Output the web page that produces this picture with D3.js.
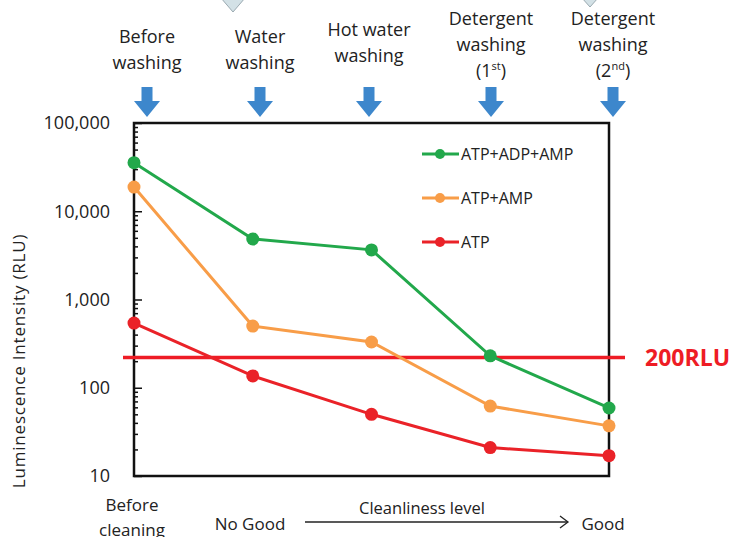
<!DOCTYPE html>
<html>
<head>
<meta charset="utf-8">
<script src="https://cdn.jsdelivr.net/npm/d3@7"></script>
<style>
  body { margin: 0; background: #fff; }
  svg text { font-family: "Open Sans", "Lato", sans-serif; fill: #222; }
</style>
</head>
<body>
<div id="chart"></div>
<script>
var stages = ["Before washing", "Water washing", "Hot water washing", "Detergent washing (1st)", "Detergent washing (2nd)"];
var stageLines = [["Before", "washing"], ["Water", "washing"], ["Hot water", "washing"], ["Detergent", "washing", "(1|st|)"], ["Detergent", "washing", "(2|nd|)"]];
var seriesNames = ["ATP+ADP+AMP", "ATP+AMP", "ATP"];
var seriesColors = ["#22a84b", "#f89d48", "#ea2228"];
var atpAdpAmp = [35500, 4850, 3650, 230, 59];
var atpAmp = [18800, 500, 330, 62, 37];
var atp = [540, 136, 50, 21, 17];
var yTicks = [10, 100, 1000, 10000, 100000];
var threshold = 220;
var thresholdLabel = "200RLU";

(function() {
    var width = 731,
        height = 537;

    var svg = d3.select("#chart")
        .append("svg")
        .attr("width", width)
        .attr("height", height);

    var x = d3.scalePoint().domain(stages).range([134, 609]);
    var y = d3.scaleLog().domain([10, 100000]).range([476, 123]);

    // faint triangles cut off at the top
    svg.append("path")
        .attr("d", "M221,-2 L245,-2 L233,12 Z")
        .attr("fill", "#d3e1e6").attr("stroke", "#9aa9b0").attr("stroke-width", 1);
    svg.append("path")
        .attr("d", "M582,-2 L598,-2 L590,7 Z")
        .attr("fill", "#d3e1e6").attr("stroke", "#9aa9b0").attr("stroke-width", 1);

    // stage labels and arrows
    var labelX = [147, 260, 369, 491, 613];
    var labelTop = [37, 37, 30, 19, 19];
    stageLines.forEach(function(lines, i) {
        var t = svg.append("text")
            .attr("x", labelX[i]).attr("y", labelTop[i])
            .attr("text-anchor", "middle")
            .attr("font-size", 18);
        lines.forEach(function(s, j) {
            var parts = s.split("|");
            t.append("tspan").attr("x", labelX[i]).attr("dy", j == 0 ? "0.35em" : 26).text(parts[0]);
            if (parts.length > 1) {
                t.append("tspan").attr("font-size", 11).attr("dy", -7).text(parts[1]);
                t.append("tspan").attr("dy", 7).text(parts[2]);
            }
        });
        var ax = labelX[i];
        svg.append("path")
            .attr("d", "M" + (ax - 5.5) + ",87 L" + (ax + 5.5) + ",87 L" + (ax + 5.5) + ",101 L" + (ax + 13) + ",101 L" + ax + ",117 L" + (ax - 13) + ",101 L" + (ax - 5.5) + ",101 Z")
            .attr("fill", "#3d87cc");
    });

    // axes
    var minor = [];
    yTicks.slice(0, -1).forEach(function(d) {
        for (var k = 2; k < 10; k++) minor.push(d * k);
    });
    svg.append("g")
        .attr("transform", "translate(134,0)")
        .call(d3.axisLeft(y).tickValues(minor).tickSize(-4).tickFormat(""))
        .call(function(g) { g.select(".domain").remove(); g.selectAll("line").attr("stroke", "#111").attr("stroke-width", 1.5); });
    svg.append("g")
        .attr("transform", "translate(134,0)")
        .call(d3.axisLeft(y).tickValues(yTicks).tickSize(-8).tickPadding(24).tickFormat(d3.format(",")))
        .call(function(g) {
            g.select(".domain").remove();
            g.selectAll("line").attr("stroke", "#111").attr("stroke-width", 1.5);
            g.selectAll("text").attr("font-size", 18).attr("fill", "#333").style("font-family", "'Open Sans', sans-serif");
        });

    svg.append("rect")
        .attr("x", 134).attr("y", 123)
        .attr("width", 609 - 134).attr("height", 476 - 123)
        .attr("fill", "none").attr("stroke", "#111").attr("stroke-width", 2.5);

    svg.append("text")
        .attr("transform", "translate(19," + 361 + ") rotate(-90)")
        .attr("text-anchor", "middle").attr("dy", "0.35em")
        .attr("font-size", 17).attr("letter-spacing", 0.8).attr("fill", "#333")
        .text("Luminescence Intensity (RLU)");

    // threshold
    svg.append("line")
        .attr("x1", 123).attr("x2", 625)
        .attr("y1", y(threshold)).attr("y2", y(threshold))
        .attr("stroke", "#ee1c25").attr("stroke-width", 3.5);
    svg.append("text")
        .attr("x", 645).attr("y", y(threshold)).attr("dy", "0.35em")
        .attr("font-size", 23).attr("font-weight", "bold")
        .style("fill", "#ee1c25")
        .text(thresholdLabel);

    // series
    var series = [atpAdpAmp, atpAmp, atp];
    var line = d3.line()
        .x(function(d, i) { return x(stages[i]); })
        .y(function(d) { return y(d); });
    series.forEach(function(vals, s) {
        svg.append("path")
            .attr("d", line(vals))
            .attr("fill", "none")
            .attr("stroke", seriesColors[s]).attr("stroke-width", 3);
        svg.selectAll(".pt" + s)
            .data(vals)
            .enter().append("circle")
            .attr("cx", function(d, i) { return x(stages[i]); })
            .attr("cy", function(d) { return y(d); })
            .attr("r", 6.5)
            .attr("fill", seriesColors[s]);
    });

    // legend
    seriesNames.forEach(function(name, s) {
        var ly = 154 + s * 44;
        svg.append("line")
            .attr("x1", 422).attr("x2", 459).attr("y1", ly).attr("y2", ly)
            .attr("stroke", seriesColors[s]).attr("stroke-width", 3);
        svg.append("circle")
            .attr("cx", 440).attr("cy", ly).attr("r", 5)
            .attr("fill", seriesColors[s]);
        svg.append("text")
            .attr("x", 461).attr("y", ly).attr("dy", "0.35em")
            .attr("font-size", 16).attr("fill", "#333")
            .text(name);
    });

    // bottom annotation
    svg.append("text").attr("x", 132).attr("y", 505).attr("dy", "0.35em")
        .attr("text-anchor", "middle").attr("font-size", 17).attr("fill", "#333").text("Before");
    svg.append("text").attr("x", 132).attr("y", 530).attr("dy", "0.35em")
        .attr("text-anchor", "middle").attr("font-size", 17).attr("fill", "#333").text("cleaning");
    svg.append("text").attr("x", 250).attr("y", 524).attr("dy", "0.35em")
        .attr("text-anchor", "middle").attr("font-size", 17).attr("fill", "#333").text("No Good");
    svg.append("text").attr("x", 422).attr("y", 508).attr("dy", "0.35em")
        .attr("text-anchor", "middle").attr("font-size", 16.5).attr("fill", "#333").text("Cleanliness level");
    svg.append("text").attr("x", 603).attr("y", 524).attr("dy", "0.35em")
        .attr("text-anchor", "middle").attr("font-size", 17).attr("fill", "#333").text("Good");
    svg.append("line")
        .attr("x1", 305).attr("x2", 568).attr("y1", 522).attr("y2", 522)
        .attr("stroke", "#222").attr("stroke-width", 1.3);
    svg.append("path")
        .attr("d", "M560,516 L568,522 L560,528")
        .attr("fill", "none").attr("stroke", "#222").attr("stroke-width", 1.3);
})();
</script>
</body>
</html>
